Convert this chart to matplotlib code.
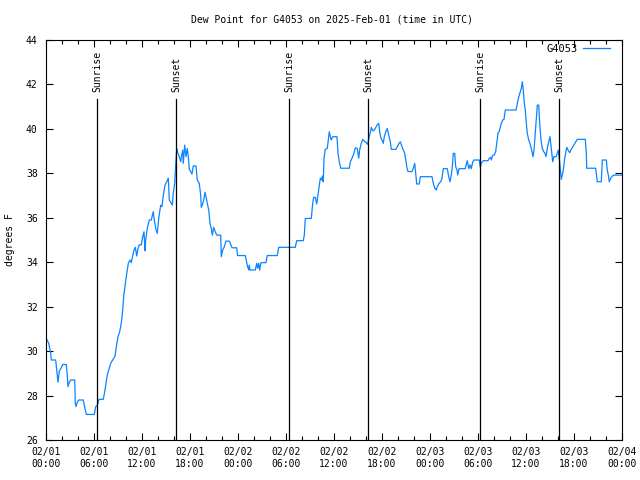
import matplotlib
matplotlib.use("Agg")
import matplotlib.pyplot as plt
import matplotlib.transforms as mtransforms
from matplotlib.ticker import MultipleLocator

# hours since 2025-02-01 00:00 UTC
hours = [
    0.09, 0.34, 0.59, 0.66, 1.21, 1.34, 1.5, 1.66, 1.91, 2.09, 2.54, 2.66, 2.75, 2.91,
    3.09, 3.59, 3.66, 3.75, 3.91, 4.09, 4.66, 4.84, 5.04, 6.04, 6.21, 6.41, 6.63, 7.16,
    7.34, 7.5, 7.66, 7.88, 8.09, 8.34, 8.63, 8.79, 9.0, 9.21, 9.41, 9.59, 9.71, 9.84,
    10.0, 10.16, 10.29, 10.5, 10.66, 10.84, 11.0, 11.16, 11.34, 11.5, 11.66, 11.91,
    12.09, 12.25, 12.375, 12.46, 12.66, 12.91, 13.16, 13.41, 13.54, 13.75, 13.91, 14.09,
    14.34, 14.5, 14.66, 14.875, 15.09, 15.29, 15.41, 15.625, 15.79, 15.91, 16.09, 16.21,
    16.34, 16.46, 16.66, 16.84, 16.96, 17.09, 17.16, 17.34, 17.5, 17.66, 17.79, 17.91,
    18.09, 18.25, 18.41, 18.75, 18.91, 19.16, 19.34, 19.41, 19.59, 19.75, 19.875, 20.0,
    20.16, 20.34, 20.5, 20.66, 20.79, 20.96, 21.16, 21.34, 21.84, 21.91, 22.09, 22.29,
    22.5, 22.91, 23.09, 23.25, 23.84, 23.94, 24.91, 25.09, 25.21, 25.34, 25.41, 25.5,
    26.16, 26.34, 26.46, 26.59, 26.71, 26.875, 27.5, 27.66, 28.91, 29.09, 31.16, 31.34,
    32.16, 32.29, 32.41, 33.16, 33.34, 33.46, 33.66, 33.84, 34.0, 34.16, 34.29, 34.46,
    34.54, 34.66, 34.75, 34.91, 35.16, 35.29, 35.41, 35.54, 35.66, 35.84, 36.375, 36.5,
    36.66, 36.84, 37.91, 38.04, 38.25, 38.5, 38.66, 38.91, 39.09, 39.21, 39.41, 39.59,
    39.79, 40.04, 40.21, 40.34, 40.54, 40.66, 40.84, 41.0, 41.16, 41.375, 41.59, 41.71,
    41.875, 42.04, 42.16, 42.29, 42.5, 42.66, 42.84, 43.04, 43.16, 43.75, 43.91, 44.125,
    44.29, 44.5, 44.66, 44.84, 45.0, 45.125, 45.25, 45.75, 45.91, 46.09, 46.25, 46.34,
    46.66, 46.79, 48.25, 48.41, 48.59, 48.79, 48.91, 49.125, 49.34, 49.5, 49.66, 50.16,
    50.34, 50.5, 50.66, 50.79, 50.91, 51.09, 51.21, 51.375, 51.46, 51.625, 52.41, 52.54,
    52.66, 52.84, 53.0, 53.16, 53.34, 53.5, 54.16, 54.29, 54.41, 54.66, 55.25, 55.41,
    55.59, 55.66, 55.84, 56.04, 56.21, 56.34, 56.5, 56.625, 56.75, 56.91, 57.09, 57.25,
    57.41, 58.75, 58.875, 59.0, 59.16, 59.29, 59.41, 59.54, 59.66, 59.79, 59.91, 60.0,
    60.16, 60.34, 60.5, 60.66, 60.875, 61.0, 61.16, 61.34, 61.41, 61.59, 61.71, 61.875,
    62.04, 62.21, 62.375, 62.5, 62.66, 62.84, 63.0, 63.16, 63.34, 63.5, 63.75, 63.91,
    64.04, 64.125, 64.25, 64.41, 64.59, 64.71, 64.84, 65.0, 65.09, 65.25, 65.46, 65.66,
    65.91, 66.16, 66.41, 67.41, 67.54, 67.59, 68.71, 68.84, 68.91, 69.41, 69.54, 70.04,
    70.16, 70.29, 70.41, 70.59, 70.79, 71.0, 71.91,
]
dew_point = [
    30.53, 30.35, 29.9, 29.6, 29.6, 29.15, 28.6, 29.1, 29.25, 29.4, 29.4, 28.9, 28.4, 28.6,
    28.7, 28.7, 27.65, 27.5, 27.7, 27.8, 27.8, 27.47, 27.15, 27.15, 27.5, 27.55, 27.83, 27.83,
    28.17, 28.55, 28.93, 29.2, 29.45, 29.6, 29.78, 30.2, 30.65, 30.87, 31.25, 31.85, 32.45, 32.82,
    33.27, 33.65, 33.95, 34.1, 33.98, 34.3, 34.55, 34.67, 34.28, 34.63, 34.78, 34.78,
    35.15, 35.37, 34.52, 35.0, 35.52, 35.9, 35.9, 36.28, 35.9, 35.45, 35.3, 35.97,
    36.57, 36.5, 37.0, 37.47, 37.62, 37.78, 36.8, 36.68, 36.57, 37.1, 37.55, 38.37,
    39.12, 38.93, 38.75, 38.52, 38.83, 39.05, 38.45, 39.27, 38.75, 39.12, 38.75, 38.18,
    38.08, 37.97, 38.33, 38.33, 37.7, 37.55, 37.0, 36.47, 36.62, 36.87, 37.15, 36.95,
    36.65, 36.35, 35.75, 35.52, 35.22, 35.57, 35.37, 35.22, 35.22, 34.25, 34.55, 34.7,
    34.95, 34.95, 34.81, 34.65, 34.65, 34.3, 34.3, 33.98, 33.8, 33.65, 33.87, 33.65,
    33.65, 33.95, 33.73, 33.95, 33.65, 33.98, 33.98, 34.3, 34.3, 34.67, 34.67, 34.97,
    34.97, 35.22, 35.97, 35.97, 36.65, 36.92, 36.92, 36.62, 37.02, 37.4, 37.78, 37.7,
    37.88, 37.62, 38.68, 39.08, 39.12, 39.53, 39.87, 39.65, 39.5, 39.65, 39.65, 38.9,
    38.52, 38.23, 38.23, 38.52, 38.68, 38.9, 39.15, 39.12, 38.68, 39.05, 39.35, 39.53,
    39.45, 39.38, 39.3, 39.57, 39.83, 40.07, 39.92, 39.92, 40.02, 40.17, 40.25, 39.87,
    39.57, 39.47, 39.35, 39.65, 39.9, 40.02, 39.72, 39.42, 39.08, 39.08, 39.2, 39.35,
    39.42, 39.2, 39.05, 38.9, 38.52, 38.23, 38.08, 38.08, 38.23, 38.45, 37.85, 37.52,
    37.52, 37.85, 37.85, 37.55, 37.33, 37.25, 37.4, 37.55, 37.62, 37.78, 38.21, 38.21,
    37.85, 37.62, 37.92, 38.3, 38.9, 38.9, 38.3, 38.15, 37.92, 38.21, 38.21, 38.42,
    38.57, 38.21, 38.38, 38.21, 38.52, 38.6, 38.6, 38.27, 38.45, 38.57, 38.57, 38.68,
    38.72, 38.6, 38.82, 38.82, 38.98, 39.35, 39.8, 39.87, 40.02, 40.25, 40.4, 40.43,
    40.85, 40.85, 41.07, 41.3, 41.52, 41.67, 41.82, 42.12, 41.75, 41.15, 40.85, 40.4,
    39.8, 39.5, 39.35, 39.12, 38.75, 39.05, 39.8, 40.7, 41.07, 41.07, 40.25, 39.5,
    39.12, 38.98, 38.9, 38.75, 39.12, 39.42, 39.65, 39.12, 38.52, 38.75, 38.75, 38.9,
    39.05, 38.75, 38.37, 37.73, 38.0, 38.3, 38.68, 38.98, 39.17, 39.05, 38.93, 39.08,
    39.23, 39.38, 39.53, 39.53, 38.9, 38.23, 38.23, 37.85, 37.62, 37.62, 38.6, 38.6,
    38.15, 37.92, 37.62, 37.78, 37.88, 37.92, 37.92,
]

sun_hours = [6.42, 16.29, 30.42, 40.29, 54.29, 64.17]
sun_labels = ["Sunrise", "Sunset", "Sunrise", "Sunset", "Sunrise", "Sunset"]

tick_hours = list(range(0, 73, 6))
tick_labels = ["02/01\n00:00", "02/01\n06:00", "02/01\n12:00", "02/01\n18:00",
               "02/02\n00:00", "02/02\n06:00", "02/02\n12:00", "02/02\n18:00",
               "02/03\n00:00", "02/03\n06:00", "02/03\n12:00", "02/03\n18:00",
               "02/04\n00:00"]

plt.rcParams["font.family"] = "DejaVu Sans Mono"
plt.rcParams["font.size"] = 7

fig = plt.figure(figsize=(6.4, 4.8), dpi=100)
ax = fig.add_axes([46 / 640, 40 / 480, 576 / 640, 400 / 480])

ax.plot(hours, dew_point, color="#0a84ff", lw=0.9, label="G4053")

# sunrise / sunset markers
trans = mtransforms.blended_transform_factory(ax.transData, ax.transAxes)
for h, lab in zip(sun_hours, sun_labels):
    ax.axvline(h, ymin=0, ymax=0.8525, color="black", lw=0.9)
    ax.text(h, 0.87, lab, rotation=90, ha="center", va="bottom",
            transform=trans, fontsize=7)

ax.set_xlim(0, 72)
ax.set_ylim(26, 44)
ax.set_xticks(tick_hours)
ax.set_xticklabels(tick_labels)
ax.xaxis.set_minor_locator(MultipleLocator(2))
ax.set_yticks(range(26, 45, 2))

ax.tick_params(which="both", direction="in", top=True, right=True, labelsize=7)
ax.tick_params(which="major", length=5, width=0.8)
ax.tick_params(which="minor", length=3, width=0.8)
ax.tick_params(axis="x", pad=5)
ax.tick_params(axis="y", pad=6)
for s in ax.spines.values():
    s.set_linewidth(0.8)

ax.legend(loc="upper right", bbox_to_anchor=(0.988, 1.004), frameon=False,
          markerfirst=False, handlelength=2.6, fontsize=7.5,
          borderaxespad=0.1, handletextpad=0.5)

fig.text(332 / 640, 1 - 20 / 480, "Dew Point for G4053 on 2025-Feb-01 (time in UTC)",
         ha="center", va="center", fontsize=7)
fig.text(10 / 640, 0.5, "degrees F", rotation=90, ha="center", va="center", fontsize=7)

fig.savefig("out.png", dpi=100)
